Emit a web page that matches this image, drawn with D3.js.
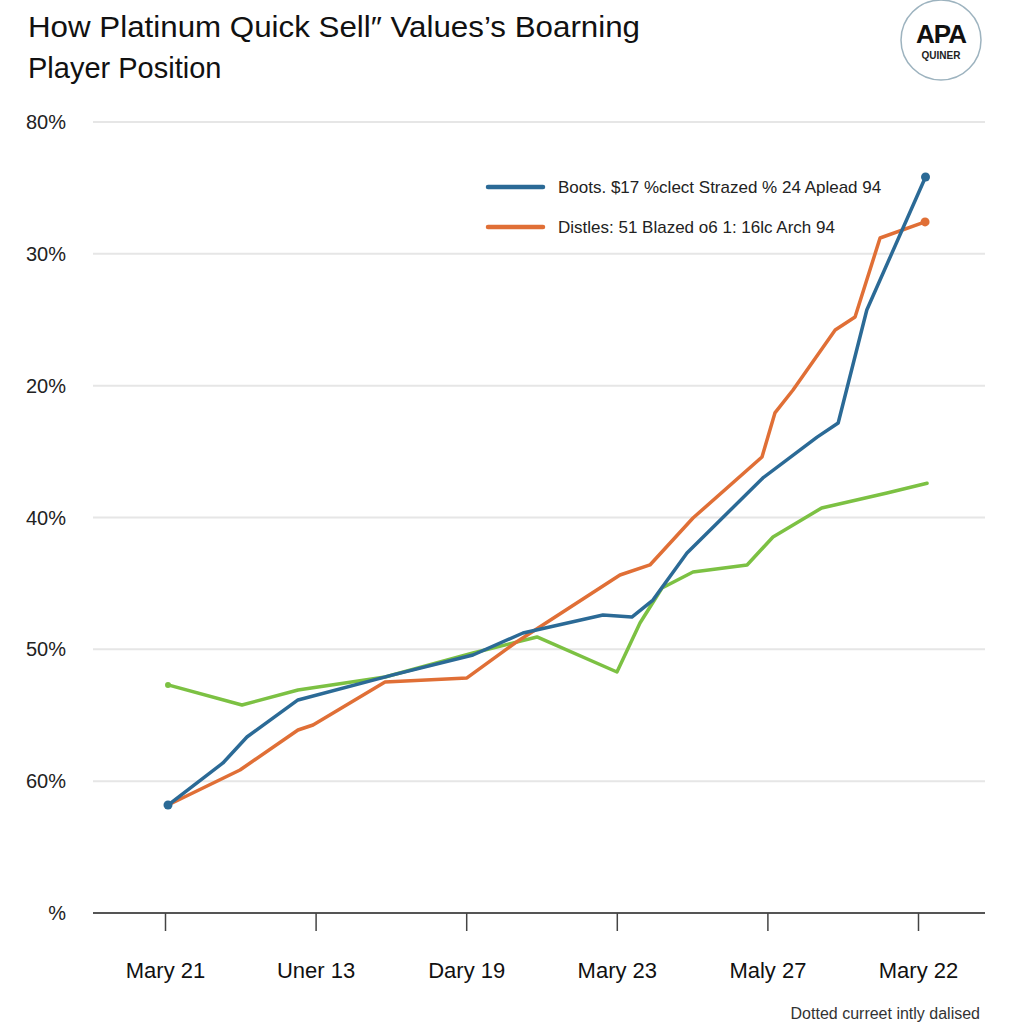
<!DOCTYPE html>
<html><head><meta charset="utf-8">
<script src="https://cdn.jsdelivr.net/npm/d3@7"></script>
<style>body{margin:0;background:#fff}svg{display:block}text{font-family:"Liberation Sans",Arial,sans-serif}</style>
</head><body><svg id="c" width="1024" height="1024"></svg>
<script>
const xTickValues = [0, 10, 20, 30, 40, 50];
const xTickLabels = ["Mary 21", "Uner 13", "Dary 19", "Mary 23", "Maly 27", "Mary 22"];
const yTickValues = [0, 10, 20, 30, 40, 50, 60];
const yTickLabels = ["%", "60%", "50%", "40%", "20%", "30%", "80%"];
const seriesNames = ["Boots. $17 %clect Strazed % 24 Aplead 94", "Distles: 51 Blazed o6 1: 16lc Arch 94", ""];
const blueX = [0.2, 3.85, 5.44, 8.83, 15.14, 20.45, 23.77, 29.08, 31.0, 32.4, 34.66, 39.7, 43.3, 44.7, 46.6, 50.5];
const blueY = [8.19, 11.38, 13.35, 16.16, 18.06, 19.57, 21.24, 22.6, 22.45, 23.74, 27.31, 33.0, 36.1, 37.17, 45.74, 55.83];
const orangeX = [0.2, 4.98, 8.83, 9.83, 14.61, 20.05, 23.24, 30.21, 32.2, 35.06, 39.64, 40.5, 41.7, 44.5, 45.82, 47.48, 50.47];
const orangeY = [8.19, 10.85, 13.88, 14.26, 17.52, 17.83, 20.48, 25.64, 26.4, 29.96, 34.59, 37.93, 39.67, 44.22, 45.21, 51.2, 52.42];
const greenX = [0.2, 5.11, 8.83, 14.61, 20.45, 24.7, 30.01, 31.54, 33.0, 35.06, 38.65, 40.37, 43.6, 47.94, 50.6];
const greenY = [17.3, 15.78, 16.92, 17.9, 19.72, 20.94, 18.28, 22.0, 24.65, 25.87, 26.4, 28.52, 30.72, 31.86, 32.6];

const colors = ["#2b6a96", "#e06f36", "#7cc143"];
const svg = d3.select("#c");
const x = d3.scaleLinear().domain([0, 50]).range([165, 918]);
const y = d3.scaleLinear().domain([0, 60]).range([913, 122]);

// title
svg.append("text").attr("x", 28).attr("y", 37).attr("font-size", 30).attr("fill", "#111")
  .attr("textLength", 612).attr("lengthAdjust", "spacingAndGlyphs").text("How Platinum Quick Sell\u2033 Values\u2019s Boarning");
svg.append("text").attr("x", 28).attr("y", 78).attr("font-size", 29).attr("fill", "#111").text("Player Position");

// logo
svg.append("circle").attr("cx", 941).attr("cy", 40).attr("r", 40).attr("fill", "#fff").attr("stroke", "#9db3bf").attr("stroke-width", 1.5);
svg.append("text").attr("x", 941).attr("y", 43).attr("text-anchor", "middle").attr("font-size", 26).attr("font-weight", "bold").attr("fill", "#111").attr("letter-spacing", -1).text("APA");
svg.append("text").attr("x", 941).attr("y", 59).attr("text-anchor", "middle").attr("font-size", 10).attr("font-weight", "bold").attr("fill", "#222").text("QUINER");

// grid
svg.append("g").selectAll("line").data(yTickValues.slice(1)).join("line")
  .attr("x1", 93).attr("x2", 985).attr("y1", d => y(d)).attr("y2", d => y(d))
  .attr("stroke", "#e6e6e6").attr("stroke-width", 2);

// y labels
svg.append("g").selectAll("text").data(yTickValues).join("text")
  .attr("x", 66).attr("y", d => y(d) + 7).attr("text-anchor", "end")
  .attr("font-size", 20).attr("fill", "#222").text((d, i) => yTickLabels[i]);

// x axis
const xa = svg.append("g").attr("transform", "translate(0,913)")
  .call(d3.axisBottom(x).tickValues(xTickValues).tickSize(18).tickFormat((d, i) => xTickLabels[i]));
xa.select(".domain").attr("d", "M93,0H985").attr("stroke", "#555").attr("stroke-width", 2);
xa.selectAll(".tick line").attr("stroke", "#444").attr("stroke-width", 1.5);
xa.selectAll(".tick text").attr("font-size", 22).attr("fill", "#111").attr("dy", 0).attr("y", 65)
  .attr("font-family", "'Liberation Sans Narrow','Liberation Sans',Arial,sans-serif");

// lines
const line = d3.line().x(d => x(d[0])).y(d => y(d[1]));
const series = [d3.zip(blueX, blueY), d3.zip(orangeX, orangeY), d3.zip(greenX, greenY)];
[2, 1, 0].forEach(i => {
  svg.append("path").datum(series[i]).attr("d", line).attr("fill", "none")
    .attr("stroke", colors[i]).attr("stroke-width", 3.5).attr("stroke-linejoin", "round").attr("stroke-linecap", "round");
});
// dots
const dots = [[0, 0, 4.5], [0, blueX.length - 1, 4.5], [1, orangeX.length - 1, 4.5], [2, 0, 3]];
svg.append("g").selectAll("circle").data(dots).join("circle")
  .attr("cx", d => x(series[d[0]][d[1]][0])).attr("cy", d => y(series[d[0]][d[1]][1]))
  .attr("r", d => d[2]).attr("fill", d => colors[d[0]]);

// legend
[0, 1].forEach(i => {
  const ly = 187 + i * 40;
  svg.append("line").attr("x1", 488).attr("x2", 543).attr("y1", ly).attr("y2", ly)
    .attr("stroke", colors[i]).attr("stroke-width", 4.5).attr("stroke-linecap", "round");
  svg.append("text").attr("x", 558).attr("y", ly + 6).attr("font-size", 17).attr("fill", "#222").text(seriesNames[i]);
});

// footer
svg.append("text").attr("x", 980).attr("y", 1019).attr("text-anchor", "end").attr("font-size", 16)
  .attr("font-family", "'Liberation Sans Narrow','Liberation Sans',Arial,sans-serif").attr("fill", "#333").text("Dotted curreet intly dalised");
</script></body></html>
